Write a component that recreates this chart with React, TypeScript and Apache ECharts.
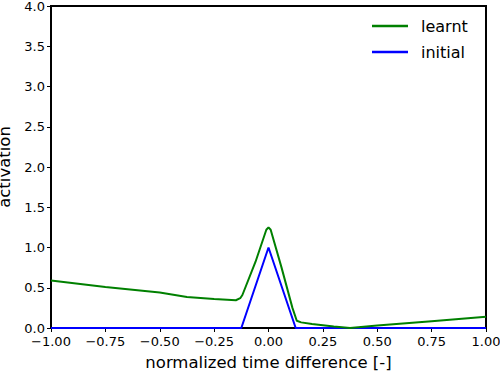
import React, { useEffect, useRef } from "react";
import * as echarts from "echarts";

const learntX = [-1.0, -0.75, -0.5, -0.375, -0.25, -0.15, -0.13, -0.12, -0.06, -0.01, 0.0, 0.01, 0.06, 0.11, 0.13, 0.15, 0.2, 0.3, 0.375, 0.5, 0.75, 1.0];
const learntY = [0.59, 0.51, 0.44, 0.385, 0.36, 0.345, 0.37, 0.41, 0.82, 1.22, 1.25, 1.22, 0.75, 0.25, 0.09, 0.07, 0.05, 0.02, 0.0, 0.03, 0.085, 0.14];
const initialX = [-1.0, -0.125, 0.0, 0.125, 1.0];
const initialY = [0.0, 0.0, 1.0, 0.0, 0.0];
const xTicks = [-1, -0.75, -0.5, -0.25, 0, 0.25, 0.5, 0.75, 1];
const yTicks = [0, 0.5, 1, 1.5, 2, 2.5, 3, 3.5, 4];

const FONT = "DejaVu Sans";

export default function App() {
  const ref = useRef<HTMLDivElement>(null);
  useEffect(() => {
    const chart = echarts.init(ref.current!, null, { renderer: "svg" });
    const fmtX = (v: number) => (v < 0 ? "\u2212" : "") + Math.abs(v).toFixed(2);
    chart.setOption({
      animation: false,
      textStyle: { fontFamily: FONT },
      grid: {
        left: 51, right: 14, top: 6, bottom: 43,
        outerBoundsMode: "none",
        containLabel: false,
        show: true, borderColor: "#000", borderWidth: 2, backgroundColor: "#fff",
      },
      legend: {
        orient: "vertical",
        left: 372,
        top: 17,
        padding: 0,
        itemWidth: 36,
        itemHeight: 2.5,
        itemGap: 8,
        icon: "rect",
        textStyle: { fontFamily: FONT, fontSize: 16, color: "#000", padding: [0, 0, 0, 8], lineHeight: 18 },
        data: ["learnt", "initial"],
      },
      xAxis: {
        type: "value",
        min: -1, max: 1, interval: 0.25,
        name: "normalized time difference [-]",
        nameLocation: "middle",
        nameGap: 26,
        nameTextStyle: { fontFamily: FONT, fontSize: 16.5, color: "#000", lineHeight: 17 },
        axisLine: { show: true, onZero: false, lineStyle: { color: "#000", width: 2 } },
        axisTick: { show: true, length: 4, lineStyle: { color: "#000", width: 1 } },
        axisLabel: { fontFamily: FONT, fontSize: 13, color: "#000", margin: 7, lineHeight: 13, formatter: (v: number) => fmtX(v), customValues: xTicks },
        splitLine: { show: false },
      },
      yAxis: {
        type: "value",
        min: 0, max: 4, interval: 0.5,
        name: "activation",
        nameLocation: "middle",
        nameGap: 31,
        nameTextStyle: { fontFamily: FONT, fontSize: 16.5, color: "#000", lineHeight: 15 },
        axisLine: { show: true, onZero: false, lineStyle: { color: "#000", width: 2 } },
        axisTick: { show: true, length: 4, lineStyle: { color: "#000", width: 1 } },
        axisLabel: { fontFamily: FONT, fontSize: 13, color: "#000", margin: 6, lineHeight: 10, formatter: (v: number) => v.toFixed(1), customValues: yTicks },
        splitLine: { show: false },
      },
      series: [
        {
          name: "learnt",
          type: "line",
          data: learntX.map((x, i) => [x, learntY[i]]),
          showSymbol: false,
          symbol: "none",
          color: "#008000",
          lineStyle: { color: "#008000", width: 2 },
          z: 3,
        },
        {
          name: "initial",
          type: "line",
          data: initialX.map((x, i) => [x, initialY[i]]),
          showSymbol: false,
          symbol: "none",
          color: "#0000ff",
          lineStyle: { color: "#0000ff", width: 2 },
          z: 2,
        },
      ],
    });
    return () => chart.dispose();
  }, []);
  return <div ref={ref} style={{ width: 500, height: 371, position: "absolute", left: 0, top: 0, background: "#fff" }} />;
}
